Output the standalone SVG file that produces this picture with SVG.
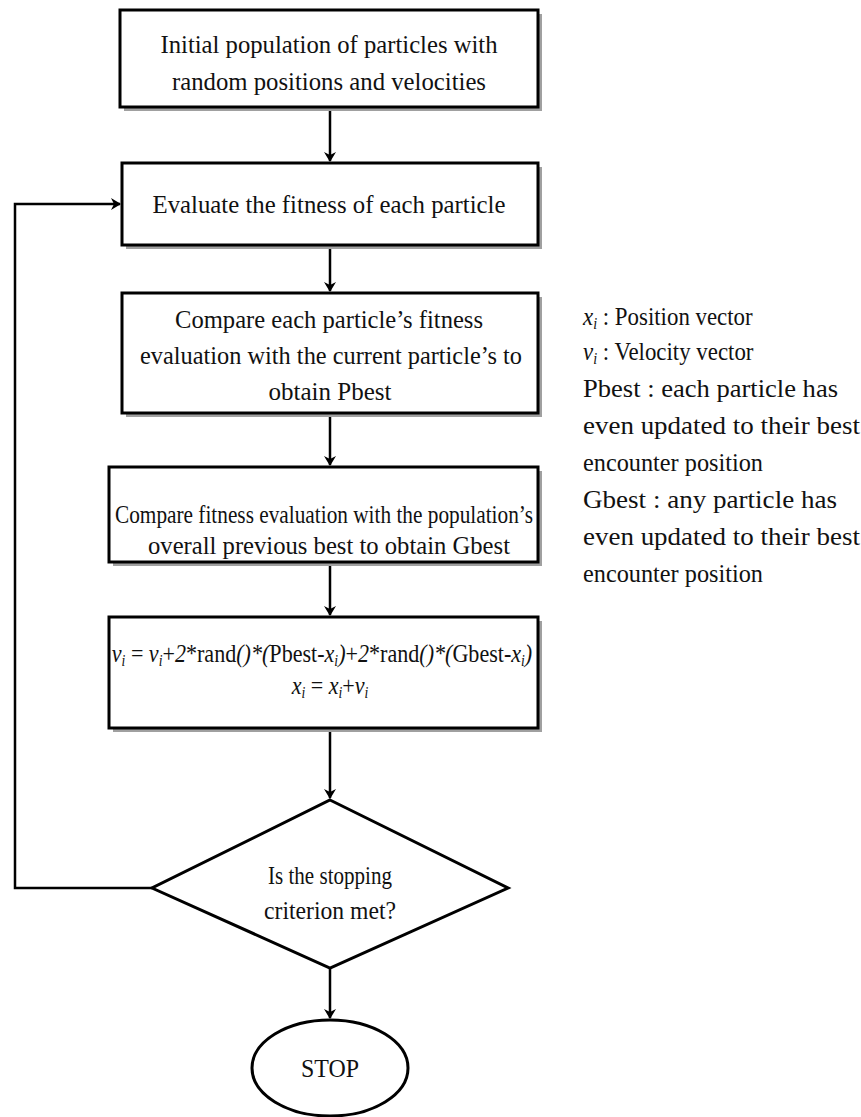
<svg xmlns="http://www.w3.org/2000/svg" width="861" height="1117" viewBox="0 0 861 1117">
  <style>
    .box { fill: #ffffff; stroke: #000000; stroke-width: 3; }
    .shadow { fill: #a0a0a0; stroke: none; }
    .t { font-family: "Liberation Serif", "Times New Roman", serif; font-size: 25px; fill: #111111; text-anchor: middle; }
    .lg { font-family: "Liberation Serif", "Times New Roman", serif; font-size: 26px; fill: #111111; }
    .it { font-style: italic; }
    .sub { font-size: 16px; font-style: italic; }
    .wire { fill: none; stroke: #000000; stroke-width: 2.5; }
  </style>
  <defs>
    <marker id="arrow" markerWidth="10" markerHeight="12" refX="9" refY="6" orient="auto" markerUnits="userSpaceOnUse">
      <path d="M0,0 L10,6 L0,12 L3,6 Z" fill="#000000"/>
    </marker>
  </defs>
  <rect width="861" height="1117" fill="#ffffff"/>

  <!-- connectors -->
  <g id="connectors">
    <line class="wire" x1="330" y1="107" x2="330" y2="161" marker-end="url(#arrow)"/>
    <line class="wire" x1="330" y1="245" x2="330" y2="291" marker-end="url(#arrow)"/>
    <line class="wire" x1="330" y1="413" x2="330" y2="465" marker-end="url(#arrow)"/>
    <line class="wire" x1="330" y1="562" x2="330" y2="615" marker-end="url(#arrow)"/>
    <line class="wire" x1="330" y1="728" x2="330" y2="798" marker-end="url(#arrow)"/>
    <line class="wire" x1="330" y1="968" x2="330" y2="1018" marker-end="url(#arrow)"/>
    <polyline class="wire" points="152,888 15,888 15,204 120,204" marker-end="url(#arrow)"/>
  </g>

  <!-- initial population -->
  <g id="init">
    <rect class="shadow" x="124" y="14" width="418" height="97"/>
    <rect class="box" x="120" y="10" width="418" height="97"/>
    <text class="t" x="329" y="53" textLength="337" lengthAdjust="spacingAndGlyphs">Initial population of particles with</text>
    <text class="t" x="329" y="90" textLength="314" lengthAdjust="spacingAndGlyphs">random positions and velocities</text>
  </g>

  <!-- fitness evaluation -->
  <g id="evaluate">
    <rect class="shadow" x="126" y="167" width="416" height="82"/>
    <rect class="box" x="122" y="163" width="416" height="82"/>
    <text class="t" x="329" y="213" textLength="353" lengthAdjust="spacingAndGlyphs">Evaluate the fitness of each particle</text>
  </g>

  <!-- personal best -->
  <g id="pbest">
    <rect class="shadow" x="126" y="297" width="416" height="120"/>
    <rect class="box" x="122" y="293" width="416" height="120"/>
    <text class="t" x="329" y="328" textLength="308" lengthAdjust="spacingAndGlyphs">Compare each particle’s fitness</text>
    <text class="t" x="331" y="364" textLength="382" lengthAdjust="spacingAndGlyphs">evaluation with the current particle’s to</text>
    <text class="t" x="330" y="400" textLength="123" lengthAdjust="spacingAndGlyphs">obtain Pbest</text>
  </g>

  <!-- global best -->
  <g id="gbest">
    <rect class="shadow" x="113" y="471" width="429" height="95"/>
    <rect class="box" x="109" y="467" width="429" height="95"/>
    <text class="t" x="324" y="523" textLength="418" lengthAdjust="spacingAndGlyphs">Compare fitness evaluation with the population’s</text>
    <text class="t" x="329" y="554" textLength="362" lengthAdjust="spacingAndGlyphs">overall previous best to obtain Gbest</text>
  </g>

  <!-- velocity / position update (condensed horizontally to fit the box) -->
  <g id="update">
    <rect class="shadow" x="113" y="621" width="429" height="111"/>
    <rect class="box" x="109" y="617" width="429" height="111"/>
    <g transform="translate(322,662) scale(0.85,1)">
      <text class="t" x="0" y="0" style="font-size:26px"><tspan class="it">v</tspan><tspan class="sub" dy="4">i</tspan><tspan dy="-4"> = </tspan><tspan class="it">v</tspan><tspan class="sub" dy="4">i</tspan><tspan dy="-4">+</tspan><tspan class="it">2</tspan>*rand<tspan class="it">()*(</tspan>Pbest-<tspan class="it">x</tspan><tspan class="sub" dy="4">i</tspan><tspan class="it" dy="-4">)</tspan>+<tspan class="it">2</tspan>*rand<tspan class="it">()*(</tspan>Gbest-<tspan class="it">x</tspan><tspan class="sub" dy="4">i</tspan><tspan class="it" dy="-4">)</tspan></text>
    </g>
    <g transform="translate(330,694) scale(0.85,1)">
      <text class="t" x="0" y="0" style="font-size:26px"><tspan class="it">x</tspan><tspan class="sub" dy="4">i</tspan><tspan dy="-4"> = </tspan><tspan class="it">x</tspan><tspan class="sub" dy="4">i</tspan><tspan dy="-4">+</tspan><tspan class="it">v</tspan><tspan class="sub" dy="4">i</tspan></text>
    </g>
  </g>

  <!-- stopping test -->
  <g id="decision">
    <polygon class="box" points="330,800 508,888 330,968 152,888" stroke-width="2.5"/>
    <text class="t" x="330" y="884" textLength="124" lengthAdjust="spacingAndGlyphs">Is the stopping</text>
    <text class="t" x="330" y="919" textLength="132" lengthAdjust="spacingAndGlyphs">criterion met?</text>
  </g>

  <!-- terminal -->
  <g id="stop">
    <ellipse class="box" cx="330" cy="1068" rx="78" ry="48" stroke-width="2.5"/>
    <text class="t" x="330" y="1077" textLength="58" lengthAdjust="spacingAndGlyphs">STOP</text>
  </g>

  <!-- symbol legend -->
  <g id="legend">
    <g transform="translate(583,325) scale(0.88,1)">
      <text class="lg" x="0" y="0"><tspan class="it">x</tspan><tspan class="sub" dy="4">i</tspan><tspan dy="-4"> : Position vector</tspan></text>
    </g>
    <g transform="translate(583,360) scale(0.88,1)">
      <text class="lg" x="0" y="0"><tspan class="it">v</tspan><tspan class="sub" dy="4">i</tspan><tspan dy="-4"> : Velocity vector</tspan></text>
    </g>
    <text class="lg" x="583" y="397" textLength="255" lengthAdjust="spacingAndGlyphs">Pbest : each particle has</text>
    <text class="lg" x="583" y="434" textLength="277" lengthAdjust="spacingAndGlyphs">even updated to their best</text>
    <text class="lg" x="583" y="471" textLength="180" lengthAdjust="spacingAndGlyphs">encounter position</text>
    <text class="lg" x="583" y="508" textLength="254" lengthAdjust="spacingAndGlyphs">Gbest : any particle has</text>
    <text class="lg" x="583" y="545" textLength="277" lengthAdjust="spacingAndGlyphs">even updated to their best</text>
    <text class="lg" x="583" y="582" textLength="180" lengthAdjust="spacingAndGlyphs">encounter position</text>
  </g>
</svg>
